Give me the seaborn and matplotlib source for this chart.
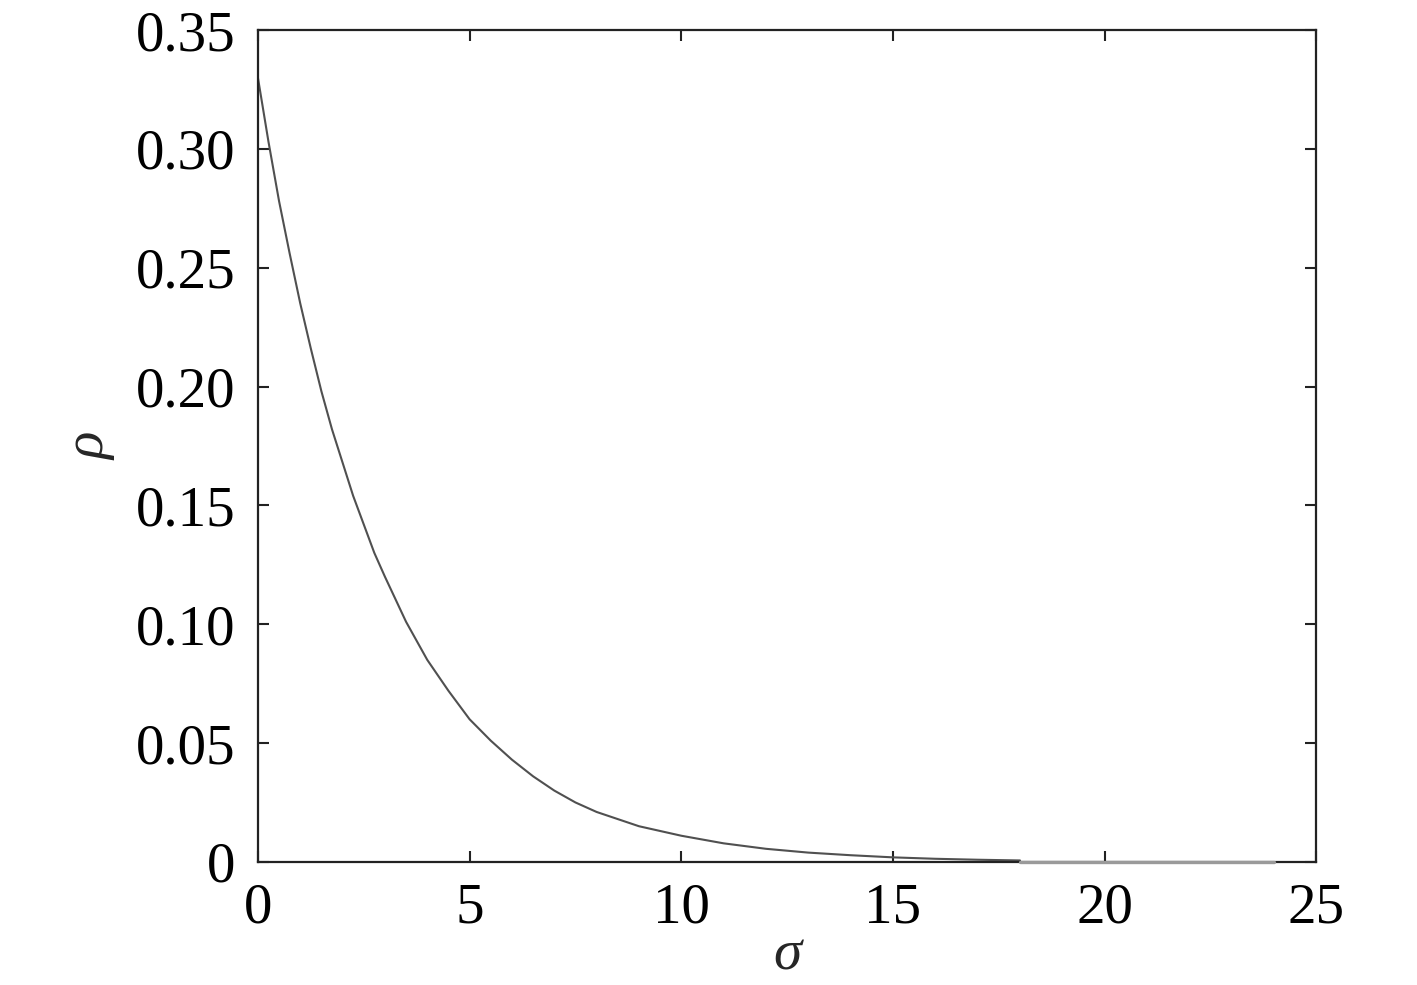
import matplotlib
matplotlib.use("Agg")
import matplotlib.pyplot as plt
import seaborn as sns
import pandas as pd

sigma = [0.0, 0.25, 0.5, 0.75, 1.0, 1.25, 1.5, 1.75, 2.0, 2.25, 2.5, 2.75, 3.0,
         3.5, 4.0, 4.5, 5.0, 5.5, 6.0, 6.5, 7.0, 7.5, 8.0, 8.5, 9.0, 9.5, 10,
         11, 12, 13, 14, 15, 16, 17, 18]
rho = [0.330, 0.303, 0.278, 0.256, 0.235, 0.216, 0.198, 0.182, 0.168, 0.154,
       0.142, 0.130, 0.120, 0.101, 0.085, 0.072, 0.060, 0.051, 0.043, 0.036,
       0.030, 0.025, 0.021, 0.018, 0.015, 0.013, 0.011, 0.0078, 0.0055,
       0.0039, 0.0028, 0.0019, 0.0013, 0.0009, 0.0006]
tail_sigma = [18, 24]
tail_rho = [0.0, 0.0]

x_ticks = [0, 5, 10, 15, 20, 25]
y_ticks = [0, 0.05, 0.10, 0.15, 0.20, 0.25, 0.30, 0.35]
y_tick_labels = ["0", "0.05", "0.10", "0.15", "0.20", "0.25", "0.30", "0.35"]

sns.set_theme(style="white")
plt.rcParams['font.family'] = ['Liberation Serif', 'DejaVu Serif']

fig = plt.figure(figsize=(14.17, 9.85), dpi=100)
ax = fig.add_axes([0.182, 0.125, 0.747, 0.8445])

df = pd.DataFrame({"sigma": sigma, "rho": rho})
df_tail = pd.DataFrame({"sigma": tail_sigma, "rho": tail_rho})
sns.lineplot(data=df, x="sigma", y="rho", ax=ax, color="#505050", linewidth=1.5)
sns.lineplot(data=df_tail, x="sigma", y="rho", ax=ax, color="#9a9a9a", linewidth=2.4)
for ln in ax.get_lines()[1:]:
    ln.set_zorder(5)
    ln.set_clip_on(False)

ax.set_xlim(0, 25)
ax.set_ylim(0, 0.35)
ax.set_xticks(x_ticks)
ax.set_xticklabels([str(t) for t in x_ticks])
ax.set_yticks(y_ticks)
ax.set_yticklabels(y_tick_labels)

ax.tick_params(axis='both', direction='in', length=8, width=1.5, color='#222222',
               labelsize=41, labelcolor='black')
ax.tick_params(axis='x', top=True, bottom=True, pad=15)
ax.tick_params(axis='y', left=True, right=True, pad=16)

for s in ax.spines.values():
    s.set_visible(True)
    s.set_color('#222222')
    s.set_linewidth(1.6)

ax.set_xlabel("σ", fontsize=41, style='italic', labelpad=-4)
ax.set_ylabel("ρ", fontsize=41, style='italic', labelpad=14)

fig.savefig("out.png", dpi=100, facecolor='white')
